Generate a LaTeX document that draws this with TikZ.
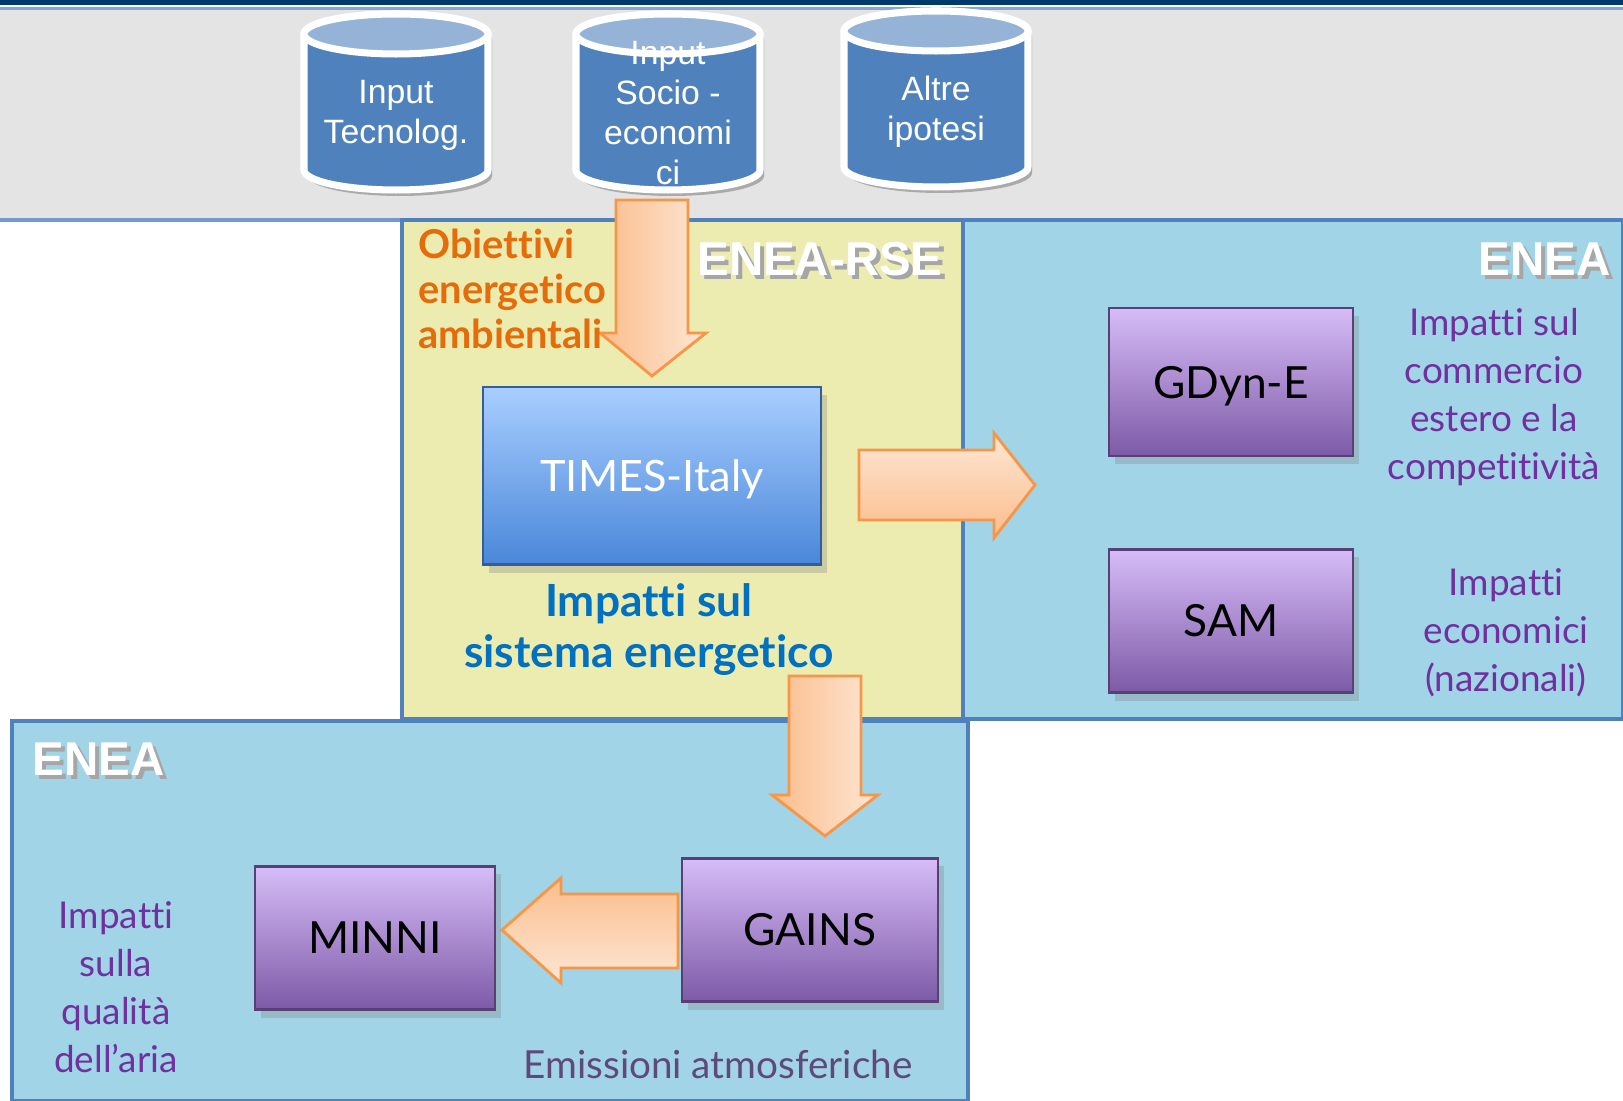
\documentclass[tikz,border=0pt]{standalone}
\usepackage{fontspec}
\setmainfont{Liberation Sans}
\newfontfamily\gillfont[Ligatures=NoCommon]{Lato}
\usetikzlibrary{shadows}

\definecolor{navybar}{HTML}{00396B}
\definecolor{bandgray}{HTML}{E4E4E4}
\definecolor{frameblue}{HTML}{4F81BD}
\definecolor{cylblue}{HTML}{4F81BD}
\definecolor{cyltop}{HTML}{95B3D7}
\definecolor{rseyellow}{HTML}{ECECB0}
\definecolor{eneablue}{HTML}{A1D4E6}
\definecolor{arrowline}{HTML}{F79646}
\definecolor{arrowdark}{HTML}{FBBD8C}
\definecolor{arrowlight}{HTML}{FDE6D4}
\definecolor{objorange}{HTML}{E46C0A}
\definecolor{impblue}{HTML}{0070C0}
\definecolor{imppurple}{HTML}{7030A0}
\definecolor{emipurple}{HTML}{5F497A}
\definecolor{boxtop}{HTML}{D6BCF8}
\definecolor{boxbot}{HTML}{7D5AA6}
\definecolor{timestop}{HTML}{A8CEFF}
\definecolor{timesbot}{HTML}{4A87D9}

\tikzset{
  modbox/.style={draw=boxbot!70!black, line width=0.6pt, top color=boxtop, bottom color=boxbot,
    drop shadow={opacity=0.3, shadow xshift=0.6mm, shadow yshift=-0.8mm},
    minimum width=2.43cm, minimum height=1.44cm, text=black,
    font=\gillfont\fontsize{12.6}{15}\selectfont},
  timesbox/.style={modbox, draw=timesbot!70!black, top color=timestop, bottom color=timesbot,
    text=white, font=\gillfont\fontsize{12.3}{15}\selectfont},
  cyltext/.style={text=white, align=center, font=\fontsize{9.6}{11.4}\selectfont},
  sidetext/.style={text=imppurple, align=center, font=\gillfont\fontsize{10.5}{13.7}\selectfont},
  teamlabel/.style={text=white, font=\bfseries\fontsize{13.5}{15}\selectfont},
  blockarrow/.style={draw=arrowline, line width=0.8pt, line join=miter}
}

% shadowed white label
\newcommand{\shadowed}[1]{\makebox[0pt][l]{\hspace{1.2pt}\raisebox{-1.2pt}{\color{black!35}#1}}#1}

% database cylinder: centre x, top y, bottom y
\newcommand{\dbcylinder}[3]{%
  \fill[black, opacity=0.25] (#1-88,#2+6) -- (#1-88,#3+6) arc(180:0:92 and 20) -- (#1+96,#2+6) arc(0:-180:92 and 20) -- cycle;
  \draw[white, line width=2pt, fill=cylblue] (#1-92,#2) -- (#1-92,#3) arc(180:0:92 and 20) -- (#1+92,#2) arc(0:-180:92 and 20) -- cycle;
  \draw[white, line width=2pt, fill=cyltop] (#1,#2) ellipse (92 and 20);
}

\begin{document}
\begin{tikzpicture}[x=0.01cm, y=-0.01cm]
\useasboundingbox (0,0) rectangle (1623,1101);

% background bands
\fill[white] (0,0) rectangle (1623,1101);
\fill[bandgray] (0,8) rectangle (1623,220);
\fill[navybar] (0,0) rectangle (1623,5);
\draw[frameblue!70, line width=0.8pt] (0,8.5) -- (1623,8.5);
\draw[frameblue!80, line width=1pt] (0,220) -- (1623,220);

% inputs
\dbcylinder{396}{34}{170}
\dbcylinder{668}{34}{170}
\dbcylinder{936}{31}{167}
\node[cyltext] (tecno) at (396,115) {Input\\Tecnolog.};
\node[cyltext] (socio) at (668,113) {Input\\Socio -\\economi\\ci};
\node[cyltext] (altre) at (936,112) {Altre\\ipotesi};

% areas
\draw[frameblue, line width=1pt, fill=eneablue] (963,220) rectangle (1623,719);
\draw[frameblue, line width=1pt, fill=rseyellow] (402,220) rectangle (963,719);
\draw[frameblue, line width=1pt, fill=eneablue] (12,721) rectangle (968,1101);

\node[teamlabel] (rse) at (820,261) {\shadowed{ENEA-RSE}};
\node[teamlabel, anchor=east] (enea1) at (1623,261) {\shadowed{ENEA}};
\node[teamlabel, anchor=west] (enea2) at (20,761) {\shadowed{ENEA}};

% block arrows
\draw[blockarrow, left color=arrowdark, right color=arrowlight]
  (616,200) -- (688,200) -- (688,333) -- (706,333) -- (652,376) -- (600,333) -- (616,333) -- cycle;
\draw[blockarrow, top color=arrowlight, bottom color=arrowdark]
  (859,450) -- (994,450) -- (994,433) -- (1035,485) -- (994,538) -- (994,520) -- (859,520) -- cycle;
\draw[blockarrow, left color=arrowdark, right color=arrowlight]
  (789,676) -- (861,676) -- (861,795) -- (878,795) -- (825,836) -- (772,795) -- (789,795) -- cycle;
\draw[blockarrow, top color=arrowdark, bottom color=arrowlight]
  (678,894) -- (561,894) -- (561,878) -- (502,930) -- (561,983) -- (561,968) -- (678,968) -- cycle;

% models
\node[timesbox, minimum width=3.38cm, minimum height=1.77cm, text depth=0pt] (times) at (652,476) {TIMES-Italy};
\node[modbox, minimum height=1.48cm, text depth=0pt] (gdyn) at (1231,382) {GDyn-E};
\node[modbox, minimum height=1.43cm] (sam) at (1231,621) {SAM};
\node[modbox, minimum width=2.56cm, minimum height=1.43cm] (gains) at (810,930) {GAINS};
\node[modbox, minimum width=2.40cm, minimum height=1.43cm] (minni) at (375,938) {MINNI};

% labels
\node[anchor=west, align=left, text=objorange, font=\gillfont\bfseries\fontsize{11.3}{12.8}\selectfont]
  (obiettivi) at (406,289) {Obiettivi\\energetico\\ambientali};
\node[align=center, text=impblue, font=\gillfont\bfseries\fontsize{12.6}{14.5}\selectfont]
  (impsist) at (649,630) {Impatti sul\\sistema energetico};
\node[sidetext] (impcomm) at (1494,397) {Impatti sul\\commercio\\estero e la\\competitività};
\node[sidetext] (impecon) at (1506,633) {Impatti\\economici\\(nazionali)};
\node[sidetext] (imparia) at (116,987) {Impatti\\sulla\\qualità\\dell’aria};
\node[text=emipurple, font=\gillfont\fontsize{11}{13}\selectfont] (emiss) at (718,1064) {Emissioni atmosferiche};
\end{tikzpicture}
\end{document}
